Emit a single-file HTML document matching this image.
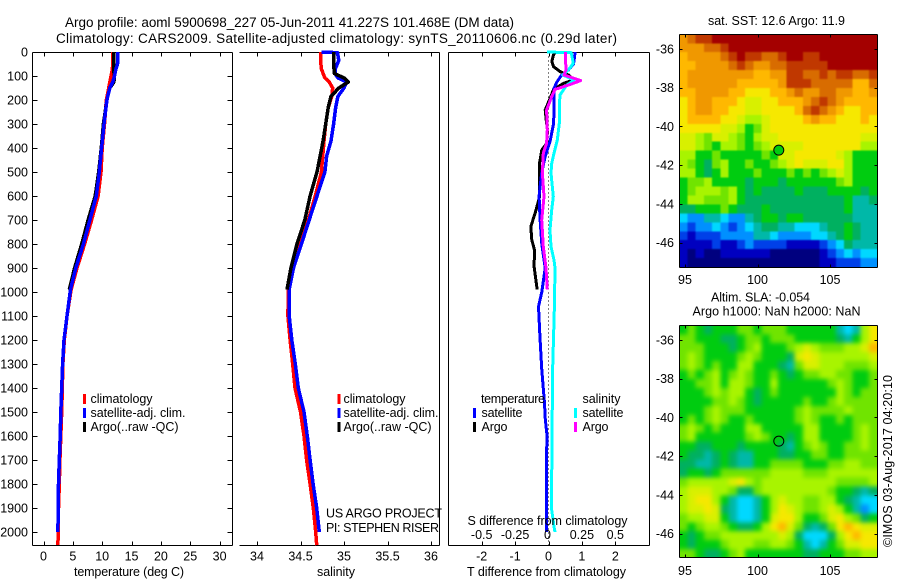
<!DOCTYPE html>
<html lang="en">
<head>
<meta charset="utf-8">
<title>Argo profile 5900698_227</title>
<style>
html,body{margin:0;padding:0;background:#fff;}
svg{display:block;}
text{font-family:"Liberation Sans",sans-serif;font-size:12.5px;fill:#000;}
.t{font-size:13.5px;}
</style>
</head>
<body>
<svg id="chart" xmlns="http://www.w3.org/2000/svg" width="900" height="580" viewBox="0 0 900 580">
<defs>
<clipPath id="clip-sst"><rect x="679.5" y="34.5" width="198" height="233"/></clipPath>
<clipPath id="clip-sla"><rect x="679.5" y="325.5" width="198" height="232"/></clipPath>
<filter id="soft-sst" filterUnits="userSpaceOnUse" x="650" y="0" width="250" height="300" color-interpolation-filters="sRGB"><feGaussianBlur stdDeviation="0.9"/></filter>
<filter id="soft-sla" filterUnits="userSpaceOnUse" x="650" y="295" width="250" height="285" color-interpolation-filters="sRGB"><feGaussianBlur stdDeviation="2.4"/></filter>
</defs>
<rect x="0" y="0" width="900" height="580" fill="#fff"/>
<text class="t" x="65" y="27" textLength="449">Argo profile: aoml 5900698_227 05-Jun-2011 41.227S 101.468E (DM data)</text>
<text class="t" x="56" y="43" textLength="561">Climatology: CARS2009. Satellite-adjusted climatology: synTS_20110606.nc (0.29d later)</text>

<g clip-path="url(#clip-sst)"><g id="heat-sst" filter="url(#soft-sst)"></g></g>
<g clip-path="url(#clip-sla)"><g id="heat-sla" filter="url(#soft-sla)"></g></g>
<g id="axes"></g>
<g id="lines"></g>
<g id="ticks"></g>

<text x="74" y="576" textLength="110">temperature (deg C)</text>
<text x="317" y="576" textLength="38">salinity</text>
<text x="467" y="576" textLength="159">T difference from climatology</text>
<text x="467.5" y="525" textLength="160">S difference from climatology</text>

<g>
<rect x="83" y="394" width="3" height="10" fill="#f00"/>
<text x="90.5" y="403" textLength="62">climatology</text>
<rect x="83" y="408" width="3" height="10" fill="#00f"/>
<text x="90.5" y="417" textLength="95">satellite-adj. clim.</text>
<rect x="83" y="422" width="3" height="10" fill="#000"/>
<text x="90.5" y="431" textLength="88">Argo(..raw -QC)</text>
</g>
<g>
<rect x="337.5" y="394" width="3" height="10" fill="#f00"/>
<text x="343.5" y="403" textLength="62">climatology</text>
<rect x="337.5" y="408" width="3" height="10" fill="#00f"/>
<text x="343.5" y="417" textLength="95">satellite-adj. clim.</text>
<rect x="337.5" y="422" width="3" height="10" fill="#000"/>
<text x="343.5" y="431" textLength="88">Argo(..raw -QC)</text>
</g>
<text x="326" y="517.5" textLength="116">US ARGO PROJECT</text>
<text x="326" y="532" textLength="113">PI: STEPHEN RISER</text>

<g>
<text x="481" y="403" textLength="64">temperature</text>
<rect x="473" y="408" width="3" height="10" fill="#00f"/>
<text x="481.5" y="417" textLength="41">satellite</text>
<rect x="473" y="422" width="3" height="10" fill="#000"/>
<text x="481.5" y="431" textLength="26">Argo</text>
<text x="582.5" y="403" textLength="38">salinity</text>
<rect x="574" y="408" width="3" height="10" fill="#0ff"/>
<text x="582.5" y="417" textLength="41">satellite</text>
<rect x="574" y="422" width="3" height="10" fill="#f0f"/>
<text x="582.5" y="431" textLength="26">Argo</text>
</g>

<text x="708" y="25" textLength="137">sat. SST: 12.6 Argo: 11.9</text>
<text x="711" y="301.5" textLength="99">Altim. SLA: -0.054</text>
<text x="692.5" y="315.5" textLength="168">Argo h1000: NaN h2000: NaN</text>
<text transform="translate(892 547) rotate(-90)" textLength="172">©IMOS 03-Aug-2017 04:20:10</text>
</svg>

<script>
// ---------- tick labels ----------
const depthTicks = [0,100,200,300,400,500,600,700,800,900,1000,1100,1200,1300,1400,1500,1600,1700,1800,1900,2000];
const tempTicks = [0,5,10,15,20,25,30];
const salTicks = [34,34.5,35,35.5,36];
const tDiffTicks = [-2,-1,0,1,2];
const sDiffTicks = [-0.5,-0.25,0,0.25,0.5];
const mapLatTicks = [36,38,40,42,44,46];
const mapLonTicks = [95,100,105];
const argoLon = 101.468;
const argoLat = 41.227;

// ---------- temperature profiles ----------
const tempDepths = [0,50,75,100,125,150,200,300,400,500,600,700,800,900,990,1100,1200,1300,1400,1500,1600,1700,1800,1900,2000,2055];
const tempClim = [11.8,11.8,11.7,11.5,11.3,11.1,10.7,10.4,10.0,9.8,9.3,8.2,7.0,5.7,4.7,4.0,3.55,3.3,3.2,3.1,2.95,2.8,2.7,2.55,2.5,2.45];
const tempSat = [12.6,12.6,12.3,12.1,11.8,11.3,10.8,10.3,9.9,9.5,9.0,7.9,6.8,5.5,4.6,4.0,3.5,3.25,3.1,2.95,2.85,2.7,2.55,2.5,2.45];
const tempArgo = [11.95,11.95,11.95,12.1,12.0,11.3,10.8,10.2,9.85,9.4,8.8,7.6,6.5,5.3,4.4];

// ---------- salinity profiles ----------
const salDepths = [0,3,35,70,90,108,125,150,185,230,300,370,435,500,600,700,800,900,990,1100,1200,1300,1400,1500,1600,1700,1800,1900,2000,2055];
const salClim = [34.73,34.73,34.73,34.74,34.76,34.78,34.83,34.87,34.86,34.82,34.79,34.77,34.755,34.74,34.67,34.59,34.49,34.415,34.36,34.355,34.38,34.41,34.437,34.50,34.54,34.57,34.61,34.647,34.675,34.686];
const salSat = [34.74,34.925,34.94,34.90,34.895,34.93,35.03,35.0,34.93,34.905,34.88,34.85,34.80,34.78,34.69,34.60,34.51,34.42,34.37,34.37,34.40,34.44,34.475,34.54,34.578,34.61,34.645,34.686,34.716];
const salArgo = [34.88,34.88,34.88,34.885,34.89,35.0,35.05,34.94,34.85,34.82,34.79,34.76,34.725,34.69,34.61,34.55,34.46,34.39,34.345];

// ---------- differences from climatology ----------
const dtSatDepths = [0,50,75,90,100,125,150,185,230,300,370,435,500,600,700,800,900,1000,1061,1200,1325,1463,1525,1590,2000];
const dtSat = [0.8,0.75,0.6,0.47,0.37,0.25,0.17,0.17,0.17,0.15,0.05,-0.1,-0.2,-0.28,-0.25,-0.2,-0.1,-0.2,-0.3,-0.25,-0.2,-0.12,-0.1,-0.05,-0.06];
const dtArgoDepths = [0,12,40,61,82,96,117,131,156,186,242,283,325,380,408,464,603,658,728,783,825,894,978,990];
const dtArgo = [0.2,0.15,0.1,0.15,0.35,0.6,0.75,0.45,0.15,0.07,-0.1,-0.07,-0.03,-0.05,-0.2,-0.27,-0.27,-0.37,-0.53,-0.5,-0.42,-0.43,-0.35,-0.35];
const dsSatDepths = [0,3,47,75,96,117,138,179,228,297,367,422,464,505,603,658,742,811,867,900,1061,1325,1770,1908,1978,2000];
const dsSat = [-0.01,0.17,0.186,0.149,0.106,0.194,0.136,0.086,0.081,0.081,0.066,0.041,0.024,0.019,0.036,0.024,0.011,0.019,0.041,0.049,0.044,0.031,0.024,0.024,0.041,0.049];
const dsArgoDepths = [0,47,75,96,119,138,156,186,242,325,380,422,505,603,700,811,900,990];
const dsArgo = [0.129,0.129,0.131,0.116,0.241,0.149,0.049,0.024,-0.014,-0.009,-0.014,-0.039,-0.046,-0.034,-0.051,-0.039,-0.019,-0.009];

// ---------- map colour levels (0 = coldest/lowest, 16 = warmest/highest) ----------
const levelColors = ['#00007f','#0000c0','#0040e8','#0090ff','#00d8ff','#00b8a8','#00b060','#00cc10','#70e400','#a8f400','#d8f000','#f6e800','#ffb800','#f09800','#d86c00','#c03800','#a40000'];
const sstGrid = [
[13,14,15,15,16,16,16,16,16,16,16,16,16,16,16,16,16,16,16,16,16,16,16,16],
[13,13,13,14,14,15,16,16,16,16,16,16,16,16,16,16,16,16,16,16,16,16,16,16],
[12,13,13,13,13,14,15,16,15,15,14,14,15,16,16,15,15,16,16,16,16,16,16,16],
[12,12,13,13,13,13,14,15,14,13,13,14,14,15,15,15,15,15,16,16,16,16,16,16],
[12,13,13,13,13,13,13,13,13,12,12,13,13,15,15,14,14,15,14,15,15,14,14,15],
[12,13,13,13,13,13,13,12,12,12,12,12,13,15,15,15,14,14,14,14,14,12,12,14],
[12,12,13,13,13,13,12,12,11,11,11,12,12,13,14,13,13,14,14,13,13,12,12,13],
[11,12,13,13,12,12,12,11,10,10,11,11,12,12,12,13,14,15,14,13,12,12,12,12],
[11,12,13,13,12,12,11,11,10,10,11,11,11,11,12,14,15,14,13,12,11,11,12,12],
[11,12,12,12,12,11,11,10,9,9,10,11,11,11,11,12,13,12,12,11,11,11,12,11],
[11,11,11,11,11,10,10,9,7,8,10,11,11,11,11,11,11,11,11,11,11,11,11,11],
[10,10,9,8,10,10,9,8,7,9,10,10,11,11,11,11,11,11,11,11,11,11,10,10],
[10,10,9,8,7,9,9,8,7,8,9,10,10,10,10,11,11,11,11,11,11,11,9,9],
[9,9,7,7,8,7,7,7,7,7,8,7,10,10,11,11,11,11,11,10,9,7,7,7],
[9,8,7,6,8,9,7,7,8,7,7,8,9,10,11,10,10,10,11,11,9,7,7,7],
[9,9,7,6,7,9,7,7,7,8,7,7,7,8,7,8,7,8,9,10,9,7,7,7],
[7,8,8,9,7,7,7,7,6,7,7,7,6,7,7,7,7,7,7,8,9,7,7,7],
[7,8,9,9,9,8,9,7,6,7,6,6,6,6,7,6,6,6,7,7,7,7,6,7],
[7,9,9,8,8,8,9,7,6,6,6,6,6,6,6,6,6,6,6,6,7,5,5,6],
[6,6,7,7,7,8,7,6,6,6,7,6,6,6,6,6,6,6,6,6,7,5,5,5],
[4,3,3,5,5,4,3,3,5,6,7,7,6,7,7,6,6,6,6,6,6,5,5,5],
[3,2,3,3,4,3,2,3,4,5,6,6,5,5,4,4,4,5,6,6,7,6,5,5],
[2,1,2,2,2,3,3,3,3,5,5,4,3,3,3,3,4,4,5,6,7,6,5,5],
[1,1,1,1,2,1,1,2,3,2,2,2,2,1,1,1,1,2,3,4,6,5,5,5],
[1,0,1,0,0,1,1,1,1,1,1,0,0,0,0,0,0,1,2,3,4,3,4,4],
[1,0,0,0,0,0,0,0,0,0,0,0,0,0,0,0,0,1,1,2,2,2,3,3]
];
const slaGrid = [
[7,8,7,6,7,7,7,8,8,7,8,8,8,7,7,7,7,7,7,5,4,5,9,11],
[8,8,7,7,7,6,6,7,8,8,7,8,8,8,7,7,7,7,7,6,5,7,9,11],
[8,8,8,7,7,7,6,7,8,9,7,7,7,8,9,10,9,8,8,8,9,9,10,12],
[8,9,8,7,7,7,7,8,9,8,7,7,7,6,10,11,10,9,9,9,9,9,9,10],
[8,9,8,7,8,7,7,9,9,7,7,7,6,5,8,10,10,9,9,9,8,8,8,9],
[7,8,7,8,9,7,8,9,8,7,7,8,7,6,7,8,8,9,9,8,8,7,7,8],
[7,7,8,8,9,7,9,9,8,7,7,9,7,7,7,7,7,7,8,9,8,7,7,8],
[7,7,7,8,9,8,9,9,7,6,7,8,7,7,7,7,7,7,7,9,8,7,8,8],
[7,7,7,7,8,8,9,8,7,6,7,7,7,7,7,8,7,7,8,9,8,8,8,8],
[7,7,7,8,9,8,8,8,7,7,7,7,7,7,8,9,8,8,8,8,9,8,8,8],
[7,8,7,8,9,8,7,7,8,7,7,7,7,7,8,9,8,7,7,8,7,8,8,8],
[8,9,8,7,8,7,7,7,9,9,7,7,7,7,7,9,9,7,7,7,7,8,9,8],
[8,9,7,7,7,7,7,7,8,9,8,7,7,6,7,9,9,7,7,7,7,8,9,8],
[7,7,6,6,7,7,7,6,7,7,7,7,6,5,7,8,9,8,7,7,8,8,9,8],
[7,6,6,5,6,7,6,5,5,7,7,7,6,6,7,7,8,8,7,7,8,8,8,8],
[6,6,5,5,6,7,6,5,5,7,7,8,8,8,8,7,7,7,8,8,9,9,8,8],
[6,7,7,6,7,8,8,8,8,8,8,9,9,9,9,8,8,8,9,9,9,9,9,9],
[8,9,9,9,9,9,10,11,9,8,9,9,9,9,9,9,9,9,9,8,8,8,8,9],
[9,10,10,10,9,9,8,6,6,8,9,9,9,9,9,9,9,9,8,7,7,6,5,6],
[9,10,11,11,9,7,5,4,4,5,7,9,10,9,9,8,8,9,9,7,6,5,4,4],
[9,10,10,11,10,6,5,4,4,5,7,9,11,10,9,8,8,9,10,9,7,5,3,4],
[8,9,9,10,10,7,5,4,4,5,7,10,11,11,9,7,7,8,10,11,9,8,6,7],
[8,7,8,9,9,8,7,6,6,7,9,11,12,10,8,6,5,6,8,11,12,11,10,10],
[7,6,7,8,8,9,9,9,9,9,9,9,10,9,6,4,4,4,6,9,11,12,11,11],
[7,6,7,7,7,8,9,9,9,8,8,9,9,8,7,5,4,5,7,8,10,10,11,11],
[8,8,7,6,6,7,8,9,7,7,7,7,7,7,7,6,6,7,7,7,8,8,9,9]
];

// ---------- axis functions ----------
const SVGNS = 'http://www.w3.org/2000/svg';
const yDepth = d => 52 + d * 0.24;
const xTemp = t => 43.5 + t * 5.87;
const xSal = s => 257 + (s - 34) * 87;
const xDT = t => 548.5 + t * 33.4;
const xDS = s => 548.5 + s * 133.6;
const xLon = lon => 685 + (lon - 95) * 14.5;
const ySst = lat => 49 + (lat - 36) * 19.35;
const ySla = lat => 340 + (lat - 36) * 19.35;

const axesG = document.getElementById('axes');
const linesG = document.getElementById('lines');
const ticksG = document.getElementById('ticks');

function seg(x1, y1, x2, y2, name) {
  const el = document.createElementNS(SVGNS, 'line');
  
  
  el.setAttribute('x1', x1);
  el.setAttribute('y1', y1);
  el.setAttribute('x2', x2);
  el.setAttribute('y2', y2);
  el.setAttribute('stroke', '#000');
  el.setAttribute('stroke-width', 1);
  el.setAttribute('shape-rendering', 'crispEdges');
  axesG.appendChild(el);
  return el;
}
function label(x, y, str, anchor, name) {
  const el = document.createElementNS(SVGNS, 'text');
  
  
  el.setAttribute('x', x);
  el.setAttribute('y', y);
  el.setAttribute('text-anchor', anchor);
  el.textContent = str;
  ticksG.appendChild(el);
}
function profile(depths, values, xFn, color, width, name) {
  const pts = values.map((v, i) => xFn(v).toFixed(1) + ',' + yDepth(depths[i]).toFixed(1)).join(' ');
  const el = document.createElementNS(SVGNS, 'polyline');
  
  
  el.setAttribute('points', pts);
  el.setAttribute('fill', 'none');
  el.setAttribute('stroke', color);
  el.setAttribute('stroke-width', width);
  el.setAttribute('stroke-linejoin', 'round');
  el.setAttribute('shape-rendering', 'crispEdges');
  linesG.appendChild(el);
}
function heatmap(groupId, grid, yFn, name) {
  const g = document.getElementById(groupId);
  const lonStart = 94.59, lonSpan = 13.66, latStart = 35.24, latSpan = 12.03;
  const rows = grid.length, cols = grid[0].length;
  const pad = 14;
  grid.forEach((row, r) => row.forEach((v, c) => {
    let x0 = xLon(lonStart + c * lonSpan / cols), x1 = xLon(lonStart + (c + 1) * lonSpan / cols);
    let y0 = yFn(latStart + r * latSpan / rows), y1 = yFn(latStart + (r + 1) * latSpan / rows);
    if (c === 0) x0 -= pad;
    if (c === cols - 1) x1 += pad;
    if (r === 0) y0 -= pad;
    if (r === rows - 1) y1 += pad;
    const el = document.createElementNS(SVGNS, 'rect');
    
    
    el.setAttribute('x', x0.toFixed(2));
    el.setAttribute('y', y0.toFixed(2));
    el.setAttribute('width', (x1 - x0 + 0.5).toFixed(2));
    el.setAttribute('height', (y1 - y0 + 0.5).toFixed(2));
    el.setAttribute('fill', levelColors[Math.max(0, Math.min(16, Math.round(v)))]);
    el.setAttribute('shape-rendering', 'crispEdges');
    g.appendChild(el);
  }));
}

// ---------- maps ----------
heatmap('heat-sst', sstGrid, ySst, 'sst-cell');
heatmap('heat-sla', slaGrid, ySla, 'sla-cell');

// ---------- profile panel frames ----------
const TOP = 52.5, BOT = 545.5;
[[32.5,232.5],[448.5,649.5]].forEach(p => {
  seg(p[0], TOP, p[1], TOP, 'panel-top-edge');
  seg(p[0], BOT, p[1], BOT, 'panel-bottom-edge');
  seg(p[0], TOP, p[0], BOT, 'panel-left-edge');
  seg(p[1], TOP, p[1], BOT, 'panel-right-edge');
});
seg(239.5, TOP, 439.5, TOP, 'panel-top-edge');
seg(239.5, BOT, 439.5, BOT, 'panel-bottom-edge');
seg(439.5, TOP, 439.5, BOT, 'panel-right-edge');

// depth ticks and labels
depthTicks.forEach(d => {
  const y = Math.round(yDepth(d)) + 0.5;
  seg(32.5, y, 37.5, y, 'depth-tick');
  seg(227.5, y, 232.5, y, 'depth-tick');
  label(28, yDepth(d) + 4.5, String(d), 'end', 'depth-tick-label');
});

function xTicks(values, xFn, tickName, labelName, labelY, fmt) {
  values.forEach(v => {
    const x = Math.round(xFn(v)) + 0.5;
    seg(x, TOP, x, TOP + 4, tickName);
    seg(x, BOT, x, BOT - 4, tickName);
    if (labelName) label(xFn(v), labelY, fmt(v), 'middle', labelName);
  });
}
xTicks(tempTicks, xTemp, 'temperature-tick', 'temperature-tick-label', 560.5, String);
xTicks(salTicks, xSal, 'salinity-tick', 'salinity-tick-label', 560.5, String);
xTicks(tDiffTicks, xDT, 't-difference-tick', 't-difference-tick-label', 560.5, String);
sDiffTicks.forEach(v => {
  label(xDS(v) - (v === 0 ? 1 : 0), 539, String(v), 'middle', 's-difference-tick-label');
});

// zero line
const zeroLine = seg(548.5, TOP, 548.5, BOT, 'zero-difference-line');
zeroLine.setAttribute('stroke-dasharray', '1 3');

// ---------- profiles ----------
profile(tempDepths, tempClim, xTemp, '#f00', 3.5, 'temperature-climatology-line');
profile(tempDepths, tempArgo, xTemp, '#000', 3.5, 'temperature-argo-line');
profile(tempDepths, tempSat, xTemp, '#00f', 3.5, 'temperature-satellite-line');

profile(salDepths, salClim, xSal, '#f00', 3.5, 'salinity-climatology-line');
profile(salDepths, salSat, xSal, '#00f', 3.5, 'salinity-satellite-line');
profile(salDepths, salArgo, xSal, '#000', 3.5, 'salinity-argo-line');

profile(dtArgoDepths, dtArgo, xDT, '#000', 3, 't-difference-argo-line');
profile(dtSatDepths, dtSat, xDT, '#00f', 3, 't-difference-satellite-line');
profile(dsSatDepths, dsSat, xDS, '#0ff', 3, 's-difference-satellite-line');
profile(dsArgoDepths, dsArgo, xDS, '#f0f', 3, 's-difference-argo-line');

// ---------- map frames, ticks, labels, marker ----------
function mapFrame(yFn, top, bottom, lonLabelY, markerFill, name) {
  const L = 679.5, R = 877.5;
  seg(L, top, R, top, name + '-top-edge');
  seg(L, bottom, R, bottom, name + '-bottom-edge');
  seg(L, top, L, bottom, name + '-left-edge');
  seg(R, top, R, bottom, name + '-right-edge');
  mapLatTicks.forEach(lat => {
    const y = Math.round(yFn(lat)) + 0.5;
    seg(L, y, L + 3, y, name + '-lat-tick');
    seg(R - 3, y, R, y, name + '-lat-tick');
    label(674, yFn(lat) + 4.5, '-' + lat, 'end', name + '-lat-label');
  });
  mapLonTicks.forEach(lon => {
    const x = Math.round(xLon(lon)) + 0.5;
    seg(x, top, x, top + 3, name + '-lon-tick');
    seg(x, bottom - 3, x, bottom, name + '-lon-tick');
    label(xLon(lon), lonLabelY, String(lon), 'middle', name + '-lon-label');
  });
  const c = document.createElementNS(SVGNS, 'circle');
  
  
  c.setAttribute('cx', xLon(argoLon));
  c.setAttribute('cy', yFn(argoLat));
  c.setAttribute('r', 5);
  c.setAttribute('fill', markerFill);
  c.setAttribute('stroke', '#000');
  c.setAttribute('stroke-width', 1);
  axesG.appendChild(c);
}
mapFrame(ySst, 34.5, 267.5, 284, '#00cc10', 'sst-map');
mapFrame(ySla, 325.5, 557.5, 575, 'none', 'sla-map');
</script>
</body>
</html>
